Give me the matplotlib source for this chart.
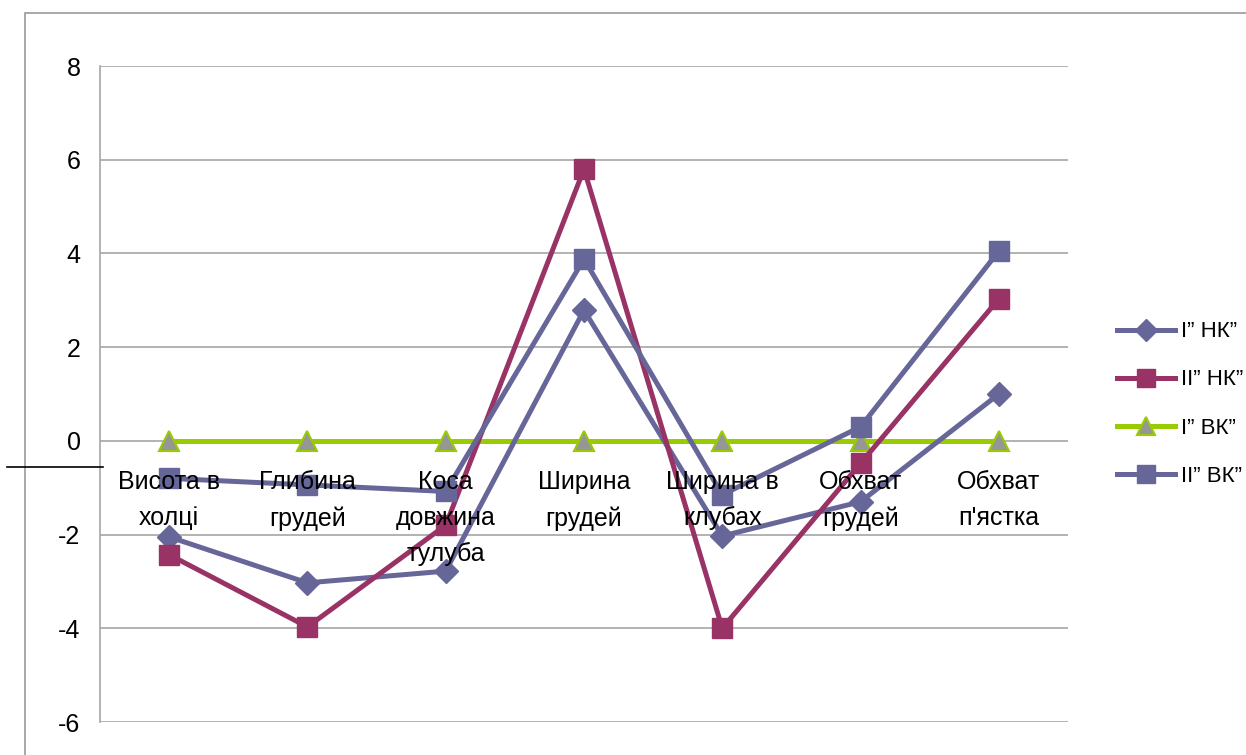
import numpy as np
import matplotlib
matplotlib.use('Agg')
import matplotlib.pyplot as plt
from matplotlib.lines import Line2D
from matplotlib.patches import Rectangle

plt.rcParams['font.family'] = ['Liberation Sans', 'DejaVu Sans']

# categories and series values
categories = ['Висота в\nхолці', 'Глибина\nгрудей', 'Коса\nдовжина\nтулуба',
              'Ширина\nгрудей', 'Ширина в\nклубах', 'Обхват\nгрудей', 'Обхват\nп\'ястка']
series_names = ['I” НК”', 'II” НК”', 'I” ВК”', 'II” ВК”']
s1_nk = [-2.05, -3.03, -2.78, 2.79, -2.03, -1.30, 1.00]
s2_nk = [-2.43, -3.97, -1.80, 5.80, -4.00, -0.48, 3.03]
s1_vk = [0, 0, 0, 0, 0, 0, 0]
s2_vk = [-0.80, -0.94, -1.08, 3.88, -1.15, 0.30, 4.05]
yticks = [-6, -4, -2, 0, 2, 4, 6, 8]

W, H = 1246, 755
fig = plt.figure(figsize=(W / 100, H / 100), dpi=100)
ax = fig.add_axes([100 / W, 1 - 722 / H, 968 / W, 656 / H])

# outer chart frame (runs off the right and bottom edge)
fig.add_artist(Rectangle((25 / W, -0.1), 1.2, 1 - 13 / H + 0.1, transform=fig.transFigure,
                         fill=False, edgecolor='#9a9a9a', linewidth=1.2))
# short black rule at the left
fig.add_artist(Line2D([7 / W, 103 / W], [1 - 467 / H, 1 - 467 / H],
                      transform=fig.transFigure, color='black', linewidth=1.2))

x = np.arange(len(categories))
grey_grid = '#a6a6a6'
for yv in yticks:
    ax.axhline(yv, color=grey_grid, linewidth=1.2, zorder=0)

ax.plot(x, s1_vk, color='#99cc00', linewidth=3.6, marker='^', markersize=15,
        markerfacecolor='#969696', markeredgecolor='#99cc00', markeredgewidth=1.5,
        label=series_names[2], zorder=2)
ax.plot(x, s1_nk, color='#666699', linewidth=3.6, marker='D', markersize=12,
        label=series_names[0], zorder=3)
ax.plot(x, s2_nk, color='#993366', linewidth=3.6, marker='s', markersize=14,
        label=series_names[1], zorder=3)
ax.plot(x, s2_vk, color='#666699', linewidth=3.6, marker='s', markersize=14,
        label=series_names[3], zorder=3)

for i, lab in enumerate(categories):
    ax.annotate(lab, (i, 0), xytext=(0, -29), textcoords='offset pixels',
                ha='center', va='top', fontsize=18, linespacing=1.63, zorder=5)

ax.set_xlim(-0.5, 6.5)
ax.set_ylim(-6, 8)
ax.set_yticks(yticks)
ax.set_yticklabels([str(v) for v in yticks], fontsize=18)
ax.set_xticks([])
ax.tick_params(axis='y', length=0, pad=14)
for side in ['top', 'right', 'bottom']:
    ax.spines[side].set_visible(False)
ax.spines['left'].set_color(grey_grid)
ax.spines['left'].set_linewidth(1.2)

handles, labels = ax.get_legend_handles_labels()
order = [1, 2, 0, 3]
ax.legend([handles[i] for i in order], [labels[i] for i in order],
          loc='center left', bbox_to_anchor=(1108 / W, 1 - 404 / H),
          bbox_transform=fig.transFigure, frameon=False, fontsize=16,
          handlelength=2.6, handletextpad=0.3, labelspacing=1.22, borderaxespad=0,
          markerscale=0.9)

fig.savefig('out.png', dpi=100)
